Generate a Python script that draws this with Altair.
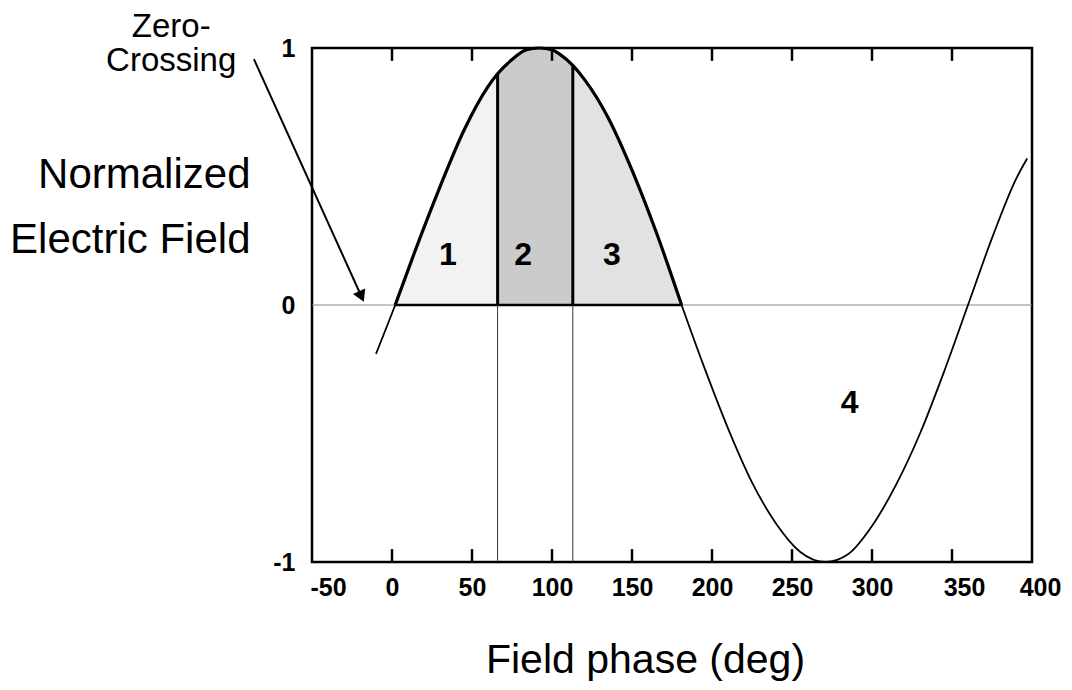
import altair as alt
import pandas as pd

# ---- data ----
phase = [-10, 2, 15, 30, 45, 60, 66, 75, 84, 92, 100, 105, 113, 120, 135, 150, 165, 181,
         195, 210, 225, 240, 255, 271, 285, 300, 315, 330, 345, 360, 375, 390, 397]
field = [-0.19, 0.0, 0.22, 0.46, 0.68, 0.85, 0.90, 0.955, 0.993, 1.0, 0.993, 0.975, 0.932, 0.88,
         0.73, 0.525, 0.286, 0.0,
         -0.24, -0.48, -0.69, -0.85, -0.96, -1.0, -0.97, -0.86, -0.70, -0.50, -0.26, 0.0, 0.26, 0.49, 0.57]

region_names = ["1", "2", "3"]
region_lo = [2, 66, 113]
region_hi = [66, 113, 181]
region_fill = ["#f2f2f2", "#cbcbcb", "#e2e2e2"]

cut_phase = [66, 113]
cut_top = [0.90, 0.932]

tick_values = [0, 50, 100, 150, 200, 250, 300, 350]
x_labels = [-50, 0, 50, 100, 150, 200, 250, 300, 350, 400]
y_labels = [-1, 0, 1]

label_text = ["1", "2", "3", "4"]
label_x = [35, 82, 137.5, 286]
label_y = [0.195, 0.195, 0.195, -0.38]

arrow_x = [-86.3, -19.6]
arrow_y = [0.957, 0.04]

# ---- tables ----
curve = pd.DataFrame({"phase": phase, "field": field})
rows = []
for name, lo, hi in zip(region_names, region_lo, region_hi):
    for p, f in zip(phase, field):
        if lo <= p <= hi:
            rows.append({"phase": p, "field": f, "region": name})
areas = pd.DataFrame(rows)
bold_part = curve[(curve.phase >= 2) & (curve.phase <= 181)]
cuts = pd.DataFrame({"phase": cut_phase, "top": cut_top})
ticks = pd.DataFrame({"phase": tick_values})
labels = pd.DataFrame({"phase": label_x, "field": label_y, "text": label_text})
arrow = pd.DataFrame({"phase": arrow_x, "field": arrow_y})
zero_full = pd.DataFrame({"a": [-50], "b": [400], "field": [0]})
zero_bold = pd.DataFrame({"a": [2], "b": [181], "field": [0]})
note = pd.DataFrame({"phase": [-138], "field": [1.043], "text": ["Zero-\nCrossing"]})

xs = alt.Scale(domain=[-50, 400], nice=False, zero=False)
ys = alt.Scale(domain=[-1, 1], nice=False, zero=False)
xaxis = alt.Axis(values=x_labels, labelExpr="'' + datum.value", ticks=False, domain=False,
                 grid=False, labelFontSize=25, labelFontWeight="bold", labelPadding=13,
                 labelColor="black", labelFlush=False,
                 labelOffset={"condition": [{"test": "datum.value == -50", "value": 16},
                                            {"test": "datum.value == 350", "value": 12},
                                            {"test": "datum.value == 400", "value": 8}],
                              "value": 0},
                 title="Field phase (deg)", titleFontSize=41, titleFontWeight="normal",
                 titleColor="black", titleAlign="center", titleBaseline="alphabetic",
                 titleX=333, titleY=110, titleAnchor="start")
yaxis = alt.Axis(values=y_labels, labelExpr="'' + datum.value", ticks=False, domain=False,
                 grid=False, labelFontSize=25, labelFontWeight="bold", labelPadding=17,
                 labelColor="black", labelFlush=False,
                 title=["Normalized", "Electric Field"], titleFontSize=42,
                 titleFontWeight="normal", titleColor="black", titleAngle=0,
                 titleAlign="right", titleBaseline="alphabetic", titleX=-62, titleY=139,
                 titleLineHeight=65, titleAnchor="start")


def X(f):
    return alt.X(f, type="quantitative", scale=xs, axis=xaxis)


def Y(f):
    return alt.Y(f, type="quantitative", scale=ys, axis=yaxis, stack=None)


area_layer = alt.Chart(areas).mark_area(interpolate="monotone").encode(
    x=X("phase"), y=Y("field"), y2=alt.datum(0),
    color=alt.Color("region:N", scale=alt.Scale(domain=region_names, range=region_fill), legend=None),
)
zero_thin = alt.Chart(zero_full).mark_rule(color="#888888", strokeWidth=1).encode(
    x=X("a"), x2="b", y=Y("field"))
zero_thick = alt.Chart(zero_bold).mark_rule(color="black", strokeWidth=2.5).encode(
    x=X("a"), x2="b", y=Y("field"))
cut_thin = alt.Chart(cuts).mark_rule(color="#333333", strokeWidth=1).encode(
    x=X("phase"), y=alt.datum(-1), y2=alt.datum(0))
cut_thick = alt.Chart(cuts).mark_rule(color="black", strokeWidth=3).encode(
    x=X("phase"), y=Y("top"), y2=alt.datum(0))
line = alt.Chart(curve).mark_line(color="black", strokeWidth=1.8, interpolate="monotone").encode(
    x=X("phase"), y=Y("field"))
line_bold = alt.Chart(bold_part).mark_line(color="black", strokeWidth=3.2, interpolate="monotone").encode(
    x=X("phase"), y=Y("field"))
top_ticks = alt.Chart(ticks).mark_rule(color="black", strokeWidth=2.5).encode(
    x=X("phase"), y=alt.datum(1), y2=alt.datum(0.95))
bot_ticks = alt.Chart(ticks).mark_rule(color="black", strokeWidth=2.5).encode(
    x=X("phase"), y=alt.datum(-1), y2=alt.datum(-0.95))
num_labels = alt.Chart(labels).mark_text(fontSize=32, fontWeight="bold", color="black",
                                         align="center", baseline="middle").encode(
    x=X("phase"), y=Y("field"), text="text:N")
arrow_line = alt.Chart(arrow).mark_line(color="black", strokeWidth=2).encode(
    x=X("phase"), y=Y("field"))
arrow_head = alt.Chart(arrow.iloc[[1]]).mark_point(shape="triangle", filled=True, color="black",
                                                   size=180, angle=156, opacity=1).encode(
    x=X("phase"), y=Y("field"))
note_text = alt.Chart(note).mark_text(fontSize=33, color="black", align="center",
                                      baseline="alphabetic", lineBreak="\n", lineHeight=34).encode(
    x=X("phase"), y=Y("field"), text="text:N")

chart = alt.layer(
    area_layer, zero_thin, zero_thick, cut_thin, cut_thick, line, line_bold,
    top_ticks, bot_ticks, num_labels, arrow_line, arrow_head, note_text,
).properties(
    width=720, height=514,
    autosize=alt.AutoSizeParams(type="none"),
    padding={"left": 304, "top": 40, "right": 32, "bottom": 120},
).configure(font="Liberation Sans").configure_view(stroke="black", strokeWidth=2.5)

chart.save("out.html", embed_options={"renderer": "svg", "actions": False})
